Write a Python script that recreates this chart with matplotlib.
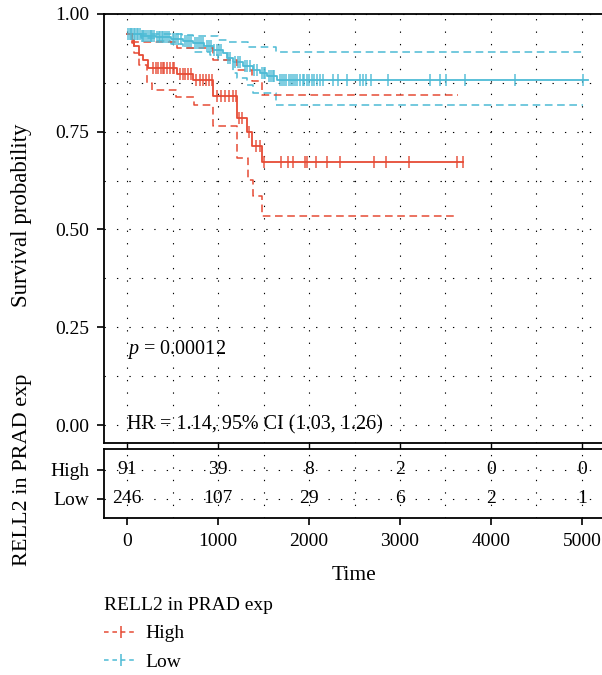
import matplotlib
matplotlib.use('Agg')
import matplotlib.pyplot as plt
from matplotlib.ticker import MultipleLocator, FixedLocator
from matplotlib.lines import Line2D
import numpy as np

plt.rcParams['font.family'] = ['Liberation Serif', 'DejaVu Serif']
plt.rcParams['mathtext.fontset'] = 'custom'
plt.rcParams['mathtext.rm'] = 'Liberation Serif'
plt.rcParams['mathtext.it'] = 'Liberation Serif:italic'

# ---------------- data ----------------
groups = ["High", "Low"]
colors = {"High": "#E64B35", "Low": "#4DBBD5"}

# High group KM steps (time, survival after step)
hi_time = [0, 55, 80, 130, 175, 230, 545, 726, 950, 1209, 1319, 1374, 1484]
hi_surv = [1.0, 0.985, 0.968, 0.946, 0.934, 0.912, 0.898, 0.882, 0.842, 0.785, 0.750, 0.713, 0.672]
hi_end = 3690
hi_up_time = [0, 60, 545, 950, 1209, 1374, 1484]
hi_up_surv = [1.0, 0.980, 0.965, 0.933, 0.908, 0.880, 0.844]
hi_lo_time = [0, 55, 80, 132, 216, 271, 538, 740, 945, 1209, 1330, 1385, 1484]
hi_lo_surv = [1.0, 0.976, 0.950, 0.921, 0.874, 0.857, 0.840, 0.818, 0.765, 0.683, 0.627, 0.585, 0.535]
hi_ci_end = 3640
hi_censor = [290, 320, 340, 370, 395, 410, 440, 470, 500, 520,
             580, 610, 640, 670, 700,
             760, 800, 830, 870, 900, 930,
             990, 1030, 1080, 1120, 1160, 1195,
             1230, 1260, 1340, 1420, 1460,
             1500, 1692, 1766, 1821, 1956, 1975, 2077, 2195, 2341, 2718, 2846, 3095, 3630, 3690]

# Low group KM steps
lo_time = [0, 150, 320, 480, 620, 729, 850, 949, 1059, 1095, 1168, 1278, 1388, 1462, 1540, 1645]
lo_surv = [1.0, 0.996, 0.992, 0.988, 0.982, 0.976, 0.968, 0.959, 0.951, 0.938, 0.929, 0.917, 0.908, 0.900, 0.892, 0.882]
lo_end = 5066
lo_up_time = [0, 600, 727, 1004, 1114, 1333, 1641]
lo_up_surv = [1.0, 0.998, 0.994, 0.985, 0.980, 0.966, 0.953]
lo_lo_time = [0, 150, 320, 480, 620, 727, 912, 1004, 1168, 1210, 1315, 1388, 1641]
lo_lo_surv = [1.0, 0.990, 0.982, 0.975, 0.965, 0.955, 0.946, 0.933, 0.900, 0.887, 0.870, 0.848, 0.818]
lo_ci_end = 5011
lo_censor = [10, 30, 45, 60, 75, 90, 110, 125, 140, 160, 175, 190, 210, 230, 250, 265, 280, 300,
             330, 350, 365, 380, 400, 420, 440, 460, 500, 520, 540, 560, 590, 640, 660, 680, 700,
             750, 770, 790, 810, 830, 880, 900, 920, 960, 990, 1010, 1030, 1110, 1130, 1190, 1220,
             1240, 1300, 1320, 1350, 1400, 1430, 1480, 1500, 1520, 1560, 1580, 1600, 1620, 1680,
             1700, 1720, 1750, 1780, 1800, 1820, 1850, 1870, 1900, 1930, 1950, 1980, 2000, 2030,
             2060, 2090, 2120, 2150, 2267, 2319, 2414, 2560, 2593, 2626, 2681, 2868, 3330, 3440,
             3505, 3714, 4264, 5011]

# risk table
risk_times = [0, 1000, 2000, 3000, 4000, 5000]
risk_high = [91, 39, 8, 2, 0, 0]
risk_low = [246, 107, 29, 6, 2, 1]

x_ticks = [0, 1000, 2000, 3000, 4000, 5000]
y_ticks = [0.0, 0.25, 0.50, 0.75, 1.051]
y_ticklabels = ["0.00", "0.25", "0.50", "0.75", "1.00"]

p_text = r"$p$ = 0.00012"
hr_text = "HR = 1.14, 95% CI (1.03, 1.26)"
legend_title = "RELL2 in PRAD exp"

# ---------------- layout ----------------
W, H = 602, 675
fig = plt.figure(figsize=(W / 100, H / 100), dpi=100)


def box(l, t, r, b):
    return [l / W, 1 - b / H, (r - l) / W, (b - t) / H]


ax = fig.add_axes(box(104, 14, 605, 443))
ax2 = fig.add_axes(box(104, 449, 605, 518))
XL = (-253, 5253)

FS = 14
grid_kw = dict(color='black', lw=0.8, linestyle=(0, (1.2, 10)))


def steps(t, s, end):
    return list(t) + [end], list(s) + [s[-1]]


def surv_at(t, s, times):
    idx = np.searchsorted(np.array(t), np.array(times), side='right') - 1
    return np.array(s)[idx]


series = {
    "High": (hi_time, hi_surv, hi_end, hi_up_time, hi_up_surv, hi_lo_time, hi_lo_surv, hi_ci_end, hi_censor),
    "Low": (lo_time, lo_surv, lo_end, lo_up_time, lo_up_surv, lo_lo_time, lo_lo_surv, lo_ci_end, lo_censor),
}

# grid
ax.set_xlim(*XL)
ax.set_ylim(-0.046, 1.051)
ax.xaxis.set_major_locator(FixedLocator(x_ticks))
ax.xaxis.set_minor_locator(MultipleLocator(500))
ax.yaxis.set_major_locator(FixedLocator(y_ticks))
ax.yaxis.set_minor_locator(FixedLocator([0.125, 0.375, 0.625, 0.875]))
ax.grid(True, which='both', **grid_kw)
ax.set_axisbelow(True)

for g in ["Low", "High"]:
    t, s, end, ut, us, lt, ls, cend, cens = series[g]
    c = colors[g]
    x, y = steps(t, s, end)
    ax.step(x, y, where='post', color=c, lw=1.3, zorder=3)
    x, y = steps(ut, us, cend)
    ax.step(x, y, where='post', color=c, lw=1.1, linestyle=(0, (5, 3)), zorder=3)
    x, y = steps(lt, ls, cend)
    ax.step(x, y, where='post', color=c, lw=1.1, linestyle=(0, (5, 3)), zorder=3)
    ax.plot(cens, surv_at(t, s, cens), linestyle='none', marker='|', ms=8.5, mew=1.2,
            color=c, alpha=0.85, zorder=4)

ax.set_yticklabels(y_ticklabels)
ax.tick_params(axis='y', which='major', direction='out', length=5, width=1.2, pad=5.5, labelsize=FS)
ax.tick_params(axis='x', which='major', direction='out', length=4, width=1.0, labelbottom=False)
ax.tick_params(which='minor', length=0)
for sp in ax.spines.values():
    sp.set_linewidth(1.3)

ax.text(0, 0.192, p_text, fontsize=14.5, ha='left', va='center')
ax.text(0, 0.0, hr_text, fontsize=14.5, ha='left', va='center')

# risk table
ax2.set_xlim(*XL)
ax2.set_ylim(-0.655, 1.72)
ax2.xaxis.set_major_locator(FixedLocator(x_ticks))
ax2.xaxis.set_minor_locator(MultipleLocator(500))
ax2.yaxis.set_major_locator(FixedLocator([1, 0]))
ax2.set_yticklabels(groups)
ax2.grid(True, which='both', axis='x', **grid_kw)
ax2.grid(True, which='major', axis='y', **grid_kw)
ax2.set_axisbelow(True)
for tt, h, l in zip(risk_times, risk_high, risk_low):
    ax2.text(tt, 1, str(h), fontsize=FS, ha='center', va='center')
    ax2.text(tt, 0, str(l), fontsize=FS, ha='center', va='center')
ax2.tick_params(axis='both', which='major', direction='out', length=5, width=1.2, pad=5.5, labelsize=FS)
ax2.tick_params(which='minor', length=0)
for sp in ax2.spines.values():
    sp.set_linewidth(1.3)

fig.text(22 / W, 1 - 215 / H, "Survival probability", rotation=90, ha='center', va='center', fontsize=16.5)
fig.text(22 / W, 1 - 470 / H, legend_title, rotation=90, ha='center', va='center', fontsize=16)
fig.text(354.5 / W, 1 - 576 / H, "Time", ha='center', va='center', fontsize=15.5)

handles = [Line2D([], [], color=colors[g], lw=1.1, linestyle=(0, (3, 2.5)), marker='|', ms=8, mew=1.1)
           for g in groups]
leg = fig.legend(handles, groups, title=legend_title, loc='upper left',
                 bbox_to_anchor=(104 / W, 1 - 597 / H), frameon=False, fontsize=14,
                 title_fontsize=14, handlelength=1.7, handletextpad=0.45, labelspacing=0.55,
                 borderpad=0, borderaxespad=0, alignment='left', numpoints=1)

fig.savefig('out.png', dpi=100)
